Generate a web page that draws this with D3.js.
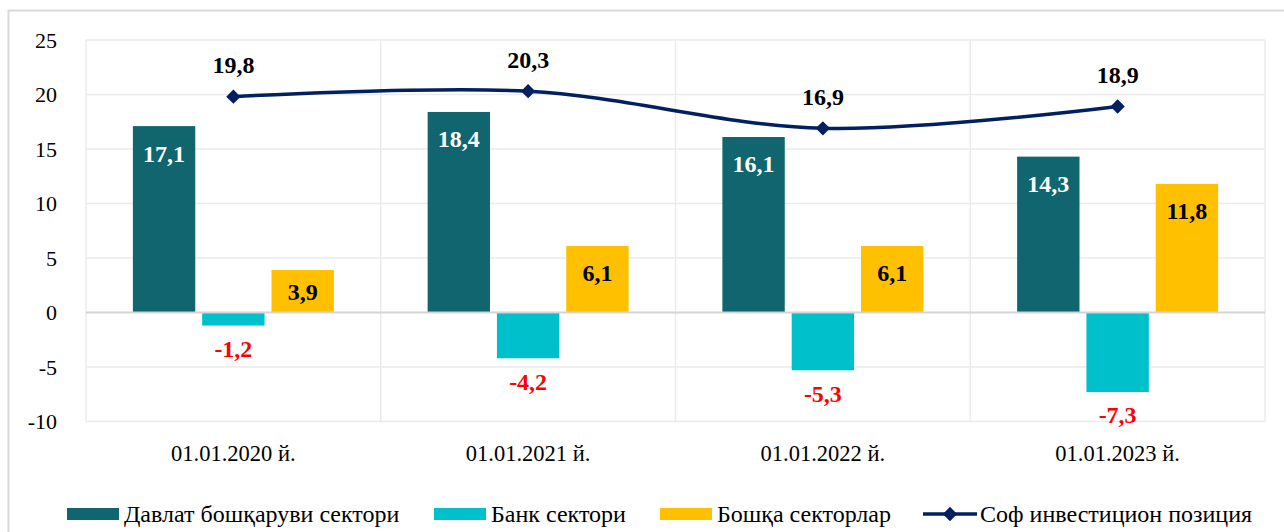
<!DOCTYPE html>
<html>
<head>
<meta charset="utf-8">
<script src="https://cdn.jsdelivr.net/npm/d3@7"></script>
<style>
  html, body { margin: 0; padding: 0; background: #fff; }
  svg { display: block; font-family: "Liberation Serif", "Times New Roman", serif; }
</style>
</head>
<body>
<svg width="1284" height="532"></svg>
<script>
// chart data
const categories = ['01.01.2020 й.', '01.01.2021 й.', '01.01.2022 й.', '01.01.2023 й.'];
const govSector = [17.1, 18.4, 16.1, 14.3];
const bankSector = [-1.2, -4.2, -5.3, -7.3];
const otherSectors = [3.9, 6.1, 6.1, 11.8];
const netPosition = [19.8, 20.3, 16.9, 18.9];
const yTicks = [-10, -5, 0, 5, 10, 15, 20, 25];

const seriesNames = ['Давлат бошқаруви сектори', 'Банк сектори', 'Бошқа секторлар'];
const lineName = 'Соф инвестицион позиция';
const colors = ['#10656F', '#00C1CB', '#FFC000'];
const lineColor = '#002060';

const svg = d3.select('svg');
const width = +svg.attr('width');
const height = +svg.attr('height');

// outer chart frame (partly off screen)
svg.append('rect')
  .attr('x', 8.5).attr('y', 10.5)
  .attr('width', width + 20).attr('height', height + 20)
  .attr('fill', 'none')
  .attr('stroke', '#D9D9D9')
  .attr('stroke-width', 2);

// plot area
const plot = { left: 86, right: 1265, top: 40, bottom: 421.5 };

const x = d3.scaleBand()
  .domain(categories)
  .range([plot.left, plot.right]);

const groupWidth = 201;
const xSub = d3.scaleBand()
  .domain(seriesNames)
  .range([0, groupWidth])
  .paddingInner(0.1);

const y = d3.scaleLinear()
  .domain([-10, 25])
  .range([plot.bottom, plot.top]);

// horizontal gridlines
svg.append('g').selectAll('line').data(yTicks.filter(d => d !== 0))
  .enter().append('line')
  .attr('x1', plot.left).attr('x2', plot.right)
  .attr('y1', d => y(d)).attr('y2', d => y(d))
  .attr('stroke', '#EBEBEB')
  .attr('stroke-width', 1.5);

// vertical gridlines between categories
const vLines = categories.map(c => x(c)).concat([plot.right]);
svg.append('g').selectAll('line').data(vLines)
  .enter().append('line')
  .attr('x1', d => d).attr('x2', d => d)
  .attr('y1', plot.top).attr('y2', plot.bottom)
  .attr('stroke', '#EBEBEB')
  .attr('stroke-width', 1.5);

// y tick labels
svg.append('g').selectAll('text').data(yTicks)
  .enter().append('text')
  .attr('x', 57)
  .attr('y', d => y(d))
  .attr('dy', '0.35em')
  .attr('text-anchor', 'end')
  .attr('font-size', 22)
  .attr('fill', '#000')
  .text(d => d);

// x category labels
svg.append('g').selectAll('text').data(categories)
  .enter().append('text')
  .attr('x', d => x(d) + x.bandwidth() / 2)
  .attr('y', 453)
  .attr('dy', '0.35em')
  .attr('text-anchor', 'middle')
  .attr('font-size', 22.5)
  .attr('fill', '#000')
  .text(d => d);

// bars
const seriesValues = [govSector, bankSector, otherSectors];
const barData = [];
categories.forEach((c, i) => {
  seriesNames.forEach((s, j) => {
    barData.push({ cat: c, series: s, idx: j, value: seriesValues[j][i] });
  });
});

const barX = d => x(d.cat) + x.bandwidth() / 2 - groupWidth / 2 + xSub(d.series);

svg.append('g').selectAll('rect').data(barData)
  .enter().append('rect')
  .attr('x', barX)
  .attr('y', d => y(Math.max(0, d.value)))
  .attr('width', xSub.bandwidth())
  .attr('height', d => Math.abs(y(d.value) - y(0)))
  .attr('fill', d => colors[d.idx]);

// zero line
svg.append('line')
  .attr('x1', plot.left).attr('x2', plot.right)
  .attr('y1', y(0)).attr('y2', y(0))
  .attr('stroke', '#D4D4D4')
  .attr('stroke-width', 2);

// bar labels
const fmt = v => String(v).replace('.', ',');
const labelY = d => {
  if (d.value < 0) return y(d.value) + 23;
  const top = y(d.value);
  return Math.min(top + 27, (top + y(0)) / 2);
};

svg.append('g').selectAll('text').data(barData)
  .enter().append('text')
  .attr('x', d => barX(d) + xSub.bandwidth() / 2)
  .attr('y', labelY)
  .attr('dy', '0.35em')
  .attr('text-anchor', 'middle')
  .attr('font-size', 24)
  .attr('font-weight', 'bold')
  .attr('fill', d => d.value < 0 ? '#FF0000' : (d.idx === 0 ? '#fff' : '#000'))
  .text(d => fmt(d.value));

// net position line
const lineData = categories.map((c, i) => ({ cat: c, value: netPosition[i] }));
const line = d3.line()
  .x(d => x(d.cat) + x.bandwidth() / 2)
  .y(d => y(d.value))
  .curve(d3.curveCatmullRom.alpha(0.5));

svg.append('path')
  .datum(lineData)
  .attr('d', line)
  .attr('fill', 'none')
  .attr('stroke', lineColor)
  .attr('stroke-width', 3.5);

const diamond = d3.symbol().type(d3.symbolDiamond2).size(130);
svg.append('g').selectAll('path').data(lineData)
  .enter().append('path')
  .attr('d', diamond)
  .attr('transform', d => `translate(${x(d.cat) + x.bandwidth() / 2},${y(d.value)})`)
  .attr('fill', lineColor);

svg.append('g').selectAll('text').data(lineData)
  .enter().append('text')
  .attr('x', d => x(d.cat) + x.bandwidth() / 2)
  .attr('y', d => y(d.value) - 32)
  .attr('dy', '0.35em')
  .attr('text-anchor', 'middle')
  .attr('font-size', 24)
  .attr('font-weight', 'bold')
  .attr('fill', '#000')
  .text(d => fmt(d.value));

// legend
const legendY = 514;
const legendItems = [
  { name: seriesNames[0], color: colors[0], x: 67, type: 'rect' },
  { name: seriesNames[1], color: colors[1], x: 434, type: 'rect' },
  { name: seriesNames[2], color: colors[2], x: 660, type: 'rect' },
  { name: lineName, color: lineColor, x: 923, type: 'line' }
];

const legend = svg.append('g').selectAll('g').data(legendItems)
  .enter().append('g')
  .attr('transform', d => `translate(${d.x},${legendY})`);

legend.filter(d => d.type === 'rect').append('rect')
  .attr('x', 0).attr('y', -6)
  .attr('width', 52).attr('height', 12)
  .attr('fill', d => d.color);

legend.filter(d => d.type === 'line').append('line')
  .attr('x1', 0).attr('x2', 54)
  .attr('y1', 0).attr('y2', 0)
  .attr('stroke', d => d.color)
  .attr('stroke-width', 3.5);

legend.filter(d => d.type === 'line').append('path')
  .attr('d', diamond)
  .attr('transform', 'translate(27,0)')
  .attr('fill', d => d.color);

legend.append('text')
  .attr('x', d => d.type === 'line' ? 57 : 57)
  .attr('y', 0)
  .attr('dy', '0.35em')
  .attr('font-size', 24)
  .attr('fill', '#000')
  .text(d => d.name);
</script>
</body>
</html>
